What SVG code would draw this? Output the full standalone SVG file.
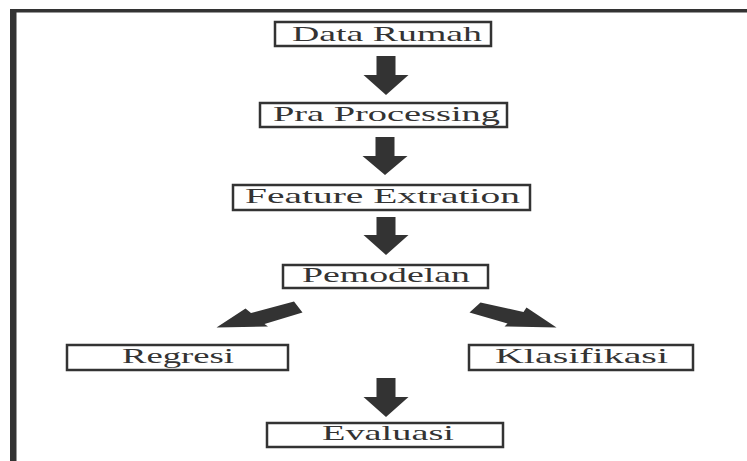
<svg xmlns="http://www.w3.org/2000/svg" width="747" height="461" viewBox="0 0 747 461">
<style>
.box{fill:#fff;stroke:#333;stroke-width:2.5}
.lbl{font-family:"Liberation Serif","Times New Roman",serif;font-size:21px;fill:#333;text-anchor:start}
.arr{fill:#333}
</style>
<rect width="747" height="461" fill="#fff"/>
<g id="frame">
<rect x="10" y="9" width="760" height="3.5" fill="#333"/>
<rect x="10" y="9" width="6.5" height="470" fill="#333"/>
</g>
<g id="connectors">
<polygon class="arr" points="376.5,56 395.5,56 395.5,75 408.5,75 386,95 363.5,75 376.5,75"/>
<polygon class="arr" points="375.5,137 394.5,137 394.5,156 407.5,156 385,175 362.5,156 375.5,156"/>
<polygon class="arr" points="376.5,217 395.5,217 395.5,235 408.5,235 386,255 363.5,235 376.5,235"/>
<polygon class="arr" points="216.5,327.5 245.5,308.5 251,313 294,301.5 302.5,312.5 264.5,324 268,326.5"/>
<polygon class="arr" points="480.5,302.5 523.5,312 526.5,307.5 556.5,327.5 504.5,326.5 507.5,323.5 469.5,312.5"/>
<polygon class="arr" points="376.5,378 395.5,378 395.5,397 408.5,397 386,417 363.5,397 376.5,397"/>
</g>
<g id="data-rumah">
<rect class="box" x="275" y="22" width="216" height="24"/>
<text class="lbl" x="292" y="41" textLength="190" lengthAdjust="spacingAndGlyphs">Data Rumah</text>
</g>
<g id="pra-processing">
<rect class="box" x="260" y="103" width="247" height="24"/>
<text class="lbl" x="273" y="121" textLength="227" lengthAdjust="spacingAndGlyphs">Pra Processing</text>
</g>
<g id="feature-extration">
<rect class="box" x="233" y="185" width="297" height="25"/>
<text class="lbl" x="245" y="203" textLength="275" lengthAdjust="spacingAndGlyphs">Feature Extration</text>
</g>
<g id="pemodelan">
<rect class="box" x="283" y="265" width="205" height="23"/>
<text class="lbl" x="302" y="282" textLength="168" lengthAdjust="spacingAndGlyphs">Pemodelan</text>
</g>
<g id="regresi">
<rect class="box" x="67" y="345" width="221" height="25"/>
<text class="lbl" x="122" y="363" textLength="112" lengthAdjust="spacingAndGlyphs">Regresi</text>
</g>
<g id="klasifikasi">
<rect class="box" x="469" y="345" width="224" height="25"/>
<text class="lbl" x="495" y="363" textLength="173" lengthAdjust="spacingAndGlyphs">Klasifikasi</text>
</g>
<g id="evaluasi">
<rect class="box" x="267" y="423" width="236" height="24"/>
<text class="lbl" x="322" y="440" textLength="132" lengthAdjust="spacingAndGlyphs">Evaluasi</text>
</g>
</svg>
